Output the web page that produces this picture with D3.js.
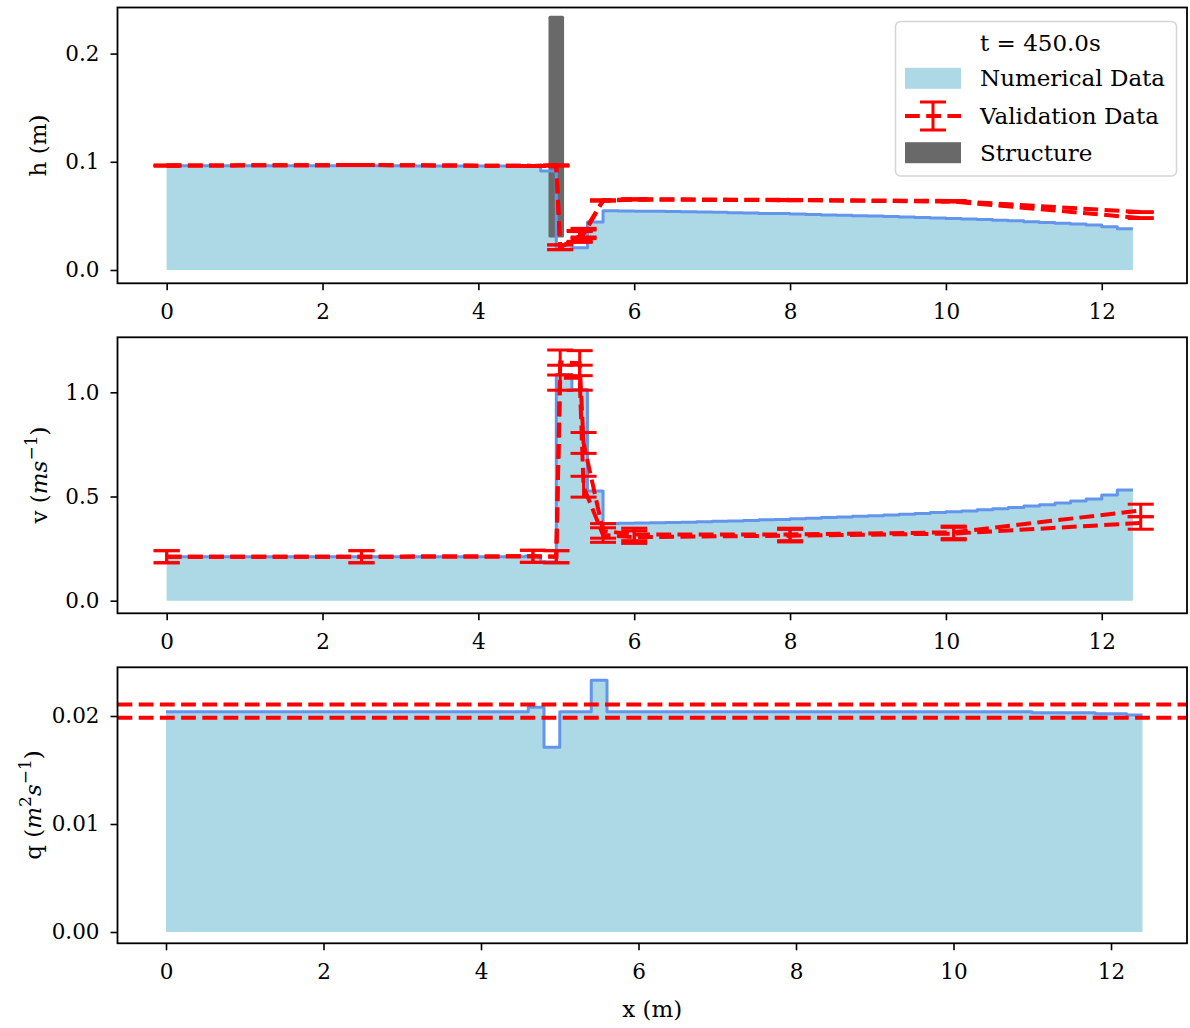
<!DOCTYPE html>
<html>
<head>
<meta charset="utf-8">
<script src="https://cdn.jsdelivr.net/npm/d3@7"></script>
<style>
body { margin: 0; background: #fff; }
svg text { font-family: "DejaVu Serif", "Liberation Serif", serif; fill: #000; }
</style>
</head>
<body>
<svg id="chart" width="1190" height="1028"></svg>
<script>
// numerical cells: left edges (m), width 0.2, last edge 12.4
var cellX = [0, 0.2, 0.4, 0.6, 0.8, 1, 1.2, 1.4, 1.6, 1.8, 2, 2.2, 2.4, 2.6, 2.8, 3, 3.2, 3.4, 3.6, 3.8,
  4, 4.2, 4.4, 4.6, 4.8, 5, 5.2, 5.4, 5.6, 5.8, 6, 6.2, 6.4, 6.6, 6.8, 7, 7.2, 7.4, 7.6, 7.8,
  8, 8.2, 8.4, 8.6, 8.8, 9, 9.2, 9.4, 9.6, 9.8, 10, 10.2, 10.4, 10.6, 10.8, 11, 11.2, 11.4, 11.6, 11.8,
  12, 12.2];
var cellEnd = 12.4;

var hNum = [0.0964, 0.0964, 0.0964, 0.0964, 0.0964, 0.0964, 0.0964, 0.0964, 0.0964, 0.0964,
  0.0964, 0.0964, 0.0963, 0.0963, 0.0963, 0.0963, 0.0962, 0.0962, 0.0962, 0.0961,
  0.0961, 0.0960, 0.0960, 0.0958, 0.0914, 0.0195, 0.0205, 0.0444,
  0.0547, 0.0546, 0.0544, 0.0543, 0.0541, 0.0538, 0.0536, 0.0533, 0.0530, 0.0527,
  0.0523, 0.0521, 0.0517, 0.0513, 0.0509, 0.0505, 0.0501, 0.0498, 0.0494, 0.0489,
  0.0484, 0.0480, 0.0475, 0.0471, 0.0466, 0.0460, 0.0454, 0.0447, 0.0440, 0.0433,
  0.0425, 0.0416, 0.0400, 0.0382];

var vNum = [0.211, 0.211, 0.211, 0.211, 0.211, 0.211, 0.211, 0.211, 0.211, 0.211,
  0.211, 0.211, 0.211, 0.211, 0.211, 0.211, 0.211, 0.211, 0.211, 0.211,
  0.211, 0.211, 0.211, 0.215, 0.187, 1.086, 1.014, 0.526,
  0.371, 0.372, 0.373, 0.374, 0.375, 0.377, 0.379, 0.381, 0.383, 0.385,
  0.388, 0.390, 0.393, 0.396, 0.399, 0.402, 0.405, 0.408, 0.411, 0.415,
  0.419, 0.423, 0.427, 0.431, 0.436, 0.441, 0.447, 0.454, 0.461, 0.469,
  0.478, 0.488, 0.507, 0.531];

var qNum = [0.0204, 0.0204, 0.0204, 0.0204, 0.0204, 0.0204, 0.0204, 0.0204, 0.0204, 0.0204,
  0.0204, 0.0204, 0.0204, 0.0204, 0.0204, 0.0204, 0.0204, 0.0204, 0.0204, 0.0204,
  0.0204, 0.0204, 0.0204, 0.0208, 0.0171, 0.0204, 0.0204, 0.0233,
  0.0204, 0.0204, 0.0204, 0.0204, 0.0204, 0.0204, 0.0204, 0.0204, 0.0204, 0.0204,
  0.0204, 0.0204, 0.0204, 0.0204, 0.0204, 0.0204, 0.0204, 0.0204, 0.0204, 0.0204,
  0.0204, 0.0204, 0.0204, 0.0204, 0.0204, 0.0204, 0.0204, 0.0203, 0.0203, 0.0203,
  0.0203, 0.0202, 0.0202, 0.0201];

// validation measurements (two runs) with error bars
var valX  = [0, 2.5, 4.7, 5.0, 5.05, 5.3, 5.35, 5.6, 6.0, 8.0, 10.1, 12.5];
var hValA = [0.0965, 0.0970, 0.0962, 0.0966, 0.0210, 0.0315, 0.0345, 0.0645, 0.0655, 0.0648, 0.0638, 0.0535];
var hValB = [0.0965, 0.0970, 0.0962, 0.0966, 0.0210, 0.0305, 0.0330, 0.0640, 0.0650, 0.0645, 0.0632, 0.0480];
var hErr  = [0.0004, 0.0004, 0.0004, 0.0004, 0.0022, 0.0050, 0.0040, 0.0004, 0.0004, 0.0004, 0.0004, 0.0004];
var vValA = [0.211, 0.211, 0.213, 0.211, 1.143, 1.140, 0.757, 0.335, 0.318, 0.318, 0.328, 0.433];
var vValB = [0.211, 0.211, 0.213, 0.211, 1.070, 1.070, 0.547, 0.315, 0.305, 0.312, 0.322, 0.373];
var vErr  = [0.029, 0.029, 0.029, 0.029, 0.060, 0.060, 0.050, 0.035, 0.030, 0.030, 0.030, 0.030];
var qValBand = [0.01984, 0.02106];

var structX = [4.9, 5.1];
var structH = [0.03, 0.235];

var xTicks = [0, 2, 4, 6, 8, 10, 12];
var hTicks = [0, 0.1, 0.2];
var vTicks = [0, 0.5, 1.0];
var qTicks = [0, 0.01, 0.02];
var legendTitle = "t = 450.0s";
var legendLabels = ["Numerical Data", "Validation Data", "Structure"];

var fillColor = "#add8e6", lineColor = "#6495ed", valColor = "#ff0000", structColor = "#696969";
var fontSize = 23, tickFont = 21.5;
var axLeft = 117.5, axRight = 1187;

var svg = d3.select("#chart");

function makePanel(cfg) {
  var x = d3.scaleLinear().domain(cfg.xDomain).range([axLeft, axRight]);
  var y = d3.scaleLinear().domain(cfg.yDomain).range([cfg.bottom, cfg.top]);
  return {g: svg.append("g"), x: x, y: y, cfg: cfg};
}

function stepPoints(vals) {
  var pts = cellX.map(function(x, i) { return [x, vals[i]]; });
  pts.push([cellEnd, vals[vals.length - 1]]);
  return pts;
}

function drawNumerical(p, vals) {
  var pts = stepPoints(vals);
  var area = d3.area()
      .curve(d3.curveStepAfter)
      .x(function(d) { return p.x(d[0]); })
      .y0(p.y(0))
      .y1(function(d) { return p.y(d[1]); });
  p.g.append("path").attr("d", area(pts)).attr("fill", fillColor);
}

function drawNumLine(p, vals) {
  var line = d3.line()
      .curve(d3.curveStepAfter)
      .x(function(d) { return p.x(d[0]); })
      .y(function(d) { return p.y(d[1]); });
  p.g.append("path").attr("d", line(stepPoints(vals)))
      .attr("fill", "none").attr("stroke", lineColor).attr("stroke-width", 3)
      .attr("stroke-linejoin", "round");
}

function drawValidation(p, vals, errs) {
  var line = d3.line()
      .x(function(d, i) { return p.x(valX[i]); })
      .y(function(d) { return p.y(d); });
  p.g.append("path").attr("d", line(vals))
      .attr("fill", "none").attr("stroke", valColor).attr("stroke-width", 4)
      .attr("stroke-dasharray", "14.8,6.4");
  var bars = p.g.append("g").attr("stroke", valColor).attr("stroke-width", 3);
  vals.forEach(function(v, i) {
    var cx = p.x(valX[i]), y0 = p.y(v - errs[i]), y1 = p.y(v + errs[i]);
    bars.append("line").attr("x1", cx).attr("x2", cx).attr("y1", y0).attr("y2", y1);
    bars.append("line").attr("x1", cx - 13).attr("x2", cx + 13).attr("y1", y0).attr("y2", y0);
    bars.append("line").attr("x1", cx - 13).attr("x2", cx + 13).attr("y1", y1).attr("y2", y1);
  });
}

function drawAxes(p, yTicks, yFmt) {
  var c = p.cfg;
  var xa = p.g.append("g")
      .attr("transform", "translate(0," + c.bottom + ")")
      .call(d3.axisBottom(p.x).tickValues(xTicks).tickSize(7).tickPadding(13).tickFormat(d3.format("d")));
  var ya = p.g.append("g")
      .attr("transform", "translate(" + axLeft + ",0)")
      .call(d3.axisLeft(p.y).tickValues(yTicks).tickSize(7).tickPadding(11).tickFormat(d3.format(yFmt)));
  [xa, ya].forEach(function(a) {
    a.select(".domain").remove();
    a.selectAll(".tick line").attr("stroke", "#000").attr("stroke-width", 1.6);
    a.selectAll(".tick text").attr("font-size", tickFont).attr("font-family", null);
  });
  p.g.append("rect")
      .attr("x", axLeft).attr("y", c.top)
      .attr("width", axRight - axLeft).attr("height", c.bottom - c.top)
      .attr("fill", "none").attr("stroke", "#000").attr("stroke-width", 1.8);
}

function yLabel(cy, bx, parts) {
  var t = svg.append("text")
      .attr("transform", "translate(" + bx + "," + cy + ") rotate(-90)")
      .attr("text-anchor", "middle")
      .attr("font-size", fontSize);
  parts.forEach(function(pt) {
    var s = t.append("tspan").text(pt.t);
    if (pt.it) s.attr("font-style", "italic");
    if (pt.sup) s.attr("font-size", 17).attr("dy", -10);
    if (pt.back) s.attr("dy", 10);
  });
}

// panel 1: depth
var p1 = makePanel({top: 7.5, bottom: 283.3, xDomain: [-0.631, 13.094], yDomain: [-0.0123, 0.2426]});
drawNumerical(p1, hNum);
p1.g.append("rect")
    .attr("x", p1.x(structX[0])).attr("width", p1.x(structX[1]) - p1.x(structX[0]))
    .attr("y", p1.y(structH[1])).attr("height", p1.y(structH[0]) - p1.y(structH[1]))
    .attr("rx", 1.5).attr("fill", structColor);
drawNumLine(p1, hNum);
drawValidation(p1, hValB, hErr);
drawValidation(p1, hValA, hErr);
drawAxes(p1, hTicks, ".1f");

// panel 2: velocity
var p2 = makePanel({top: 337.3, bottom: 613.3, xDomain: [-0.631, 13.094], yDomain: [-0.0605, 1.264]});
drawNumerical(p2, vNum);
drawNumLine(p2, vNum);
drawValidation(p2, vValB, vErr);
drawValidation(p2, vValA, vErr);
drawAxes(p2, vTicks, ".1f");

// panel 3: discharge
var p3 = makePanel({top: 667.3, bottom: 943.3, xDomain: [-0.616, 12.965], yDomain: [-0.001046, 0.02451]});
drawNumerical(p3, qNum);
drawNumLine(p3, qNum);
qValBand.forEach(function(q) {
  p3.g.append("line")
      .attr("x1", axLeft).attr("x2", axRight).attr("y1", p3.y(q)).attr("y2", p3.y(q))
      .attr("stroke", valColor).attr("stroke-width", 4).attr("stroke-dasharray", "14.8,6.4");
});
drawAxes(p3, qTicks, ".2f");

// axis labels
yLabel(145.5, 46, [{t: "h (m)"}]);
yLabel(475, 47, [{t: "v ("}, {t: "ms", it: true}, {t: "\u22121", sup: true}, {t: ")", back: true}]);
yLabel(805, 41, [{t: "q ("}, {t: "m", it: true}, {t: "2", sup: true}, {t: "s", it: true, back: true},
  {t: "\u22121", sup: true}, {t: ")", back: true}]);
svg.append("text")
    .attr("x", (axLeft + axRight) / 2).attr("y", 1017)
    .attr("text-anchor", "middle").attr("font-size", fontSize)
    .text("x (m)");

// legend
var lg = svg.append("g").attr("transform", "translate(895.5,21.5)");
lg.append("rect").attr("width", 281).attr("height", 154.5).attr("rx", 5)
    .attr("fill", "#fff").attr("fill-opacity", 0.8).attr("stroke", "#d4d4d4").attr("stroke-width", 1.5);
var rowY = [21.8, 56.8, 94.5, 131.2];
lg.append("text").attr("x", 84.5).attr("y", rowY[0] + 8).attr("font-size", fontSize).text(legendTitle);
legendLabels.forEach(function(l, i) {
  lg.append("text").attr("x", 84.5).attr("y", rowY[i + 1] + 8).attr("font-size", fontSize).text(l);
});
lg.append("rect").attr("x", 9.5).attr("y", rowY[1] - 10.5).attr("width", 56).attr("height", 21).attr("fill", fillColor);
lg.append("rect").attr("x", 9.5).attr("y", rowY[3] - 10.5).attr("width", 56).attr("height", 21).attr("fill", structColor);
var lv = lg.append("g").attr("stroke", valColor);
lv.append("line").attr("x1", 9.5).attr("x2", 65.5).attr("y1", rowY[2]).attr("y2", rowY[2])
    .attr("stroke-width", 4).attr("stroke-dasharray", "14.8,6.4");
lv.append("line").attr("x1", 37.5).attr("x2", 37.5).attr("y1", rowY[2] - 14).attr("y2", rowY[2] + 14).attr("stroke-width", 3);
lv.append("line").attr("x1", 24.5).attr("x2", 50.5).attr("y1", rowY[2] - 14).attr("y2", rowY[2] - 14).attr("stroke-width", 3);
lv.append("line").attr("x1", 24.5).attr("x2", 50.5).attr("y1", rowY[2] + 14).attr("y2", rowY[2] + 14).attr("stroke-width", 3);
</script>
</body>
</html>
